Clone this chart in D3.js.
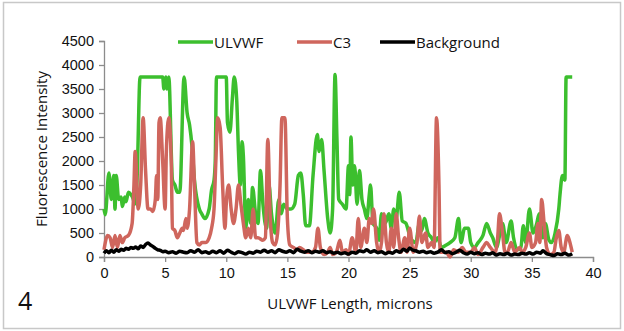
<!DOCTYPE html>
<html>
<head>
<meta charset="utf-8">
<script src="https://cdn.jsdelivr.net/npm/d3@7"></script>
<style>
  body { margin: 0; background: #fff; }
  svg { display: block; font-family: "Open Sans", sans-serif; }
</style>
</head>
<body>
<div class="chart"></div>
<script>
// values: [length (microns), intensity]
const ulvwf = [[0,1000],[0.1,880],[0.4,1750],[0.6,1200],[0.8,1700],[0.9,1000],[1.0,1700],[1.2,1200],[1.4,1250],[1.5,1050],[1.7,1250],[1.8,1150],[2.0,1350],[2.2,1300],[2.4,1200],[2.5,1100],[2.7,1600],[2.95,3750],[4.8,3750],[4.9,3500],[5.05,3750],[5.15,3500],[5.3,3750],[5.6,1600],[5.8,1500],[6.0,1350],[6.2,1350],[6.55,3750],[6.8,3000],[7.0,2750],[7.2,2300],[7.4,1600],[7.8,1000],[8.0,900],[8.25,800],[8.6,1000],[8.8,1400],[9.0,1600],[9.1,2000],[9.2,3750],[10.0,3750],[10.1,2800],[10.3,2600],[10.5,3300],[10.65,3750],[10.85,3300],[11.0,2200],[11.15,1500],[11.3,2400],[11.4,2100],[11.6,600],[11.8,1200],[12.0,700],[12.15,1450],[12.4,900],[12.6,700],[12.8,1800],[13.0,1100],[13.3,600],[13.5,1500],[13.7,900],[14.0,500],[14.3,1200],[14.5,900],[14.7,1100],[15.0,1000],[15.3,1000],[15.6,1100],[15.9,1700],[16.1,1750],[16.3,1300],[16.5,650],[16.8,650],[17.1,1700],[17.45,2550],[17.6,2200],[17.8,2450],[18.0,1800],[18.3,800],[18.5,500],[18.7,1000],[18.9,3800],[19.05,2500],[19.2,1200],[19.5,1100],[19.8,1000],[20.0,1900],[20.1,1300],[20.2,2500],[20.35,1500],[20.5,1900],[20.7,1100],[20.9,1800],[21.1,1200],[21.3,1000],[21.5,800],[21.7,1300],[21.8,1500],[22.0,700],[22.3,600],[22.5,350],[22.7,900],[23.0,700],[23.3,900],[23.5,600],[23.7,1000],[23.9,800],[24.15,1350],[24.4,750],[24.7,700],[25.0,450],[25.2,350],[25.5,300],[25.8,700],[26.0,550],[26.2,800],[26.5,500],[26.8,400],[27.0,300],[27.3,400],[27.6,200],[28.0,250],[28.3,300],[28.7,400],[29.0,800],[29.2,300],[29.5,600],[29.8,600],[30.0,300],[30.3,200],[30.6,300],[31.0,450],[31.3,700],[31.6,500],[31.8,400],[32.1,200],[32.4,500],[32.6,700],[32.9,300],[33.3,750],[33.5,400],[33.8,150],[34.1,200],[34.3,650],[34.5,300],[34.8,1000],[35.1,500],[35.4,700],[35.6,900],[35.9,400],[36.1,700],[36.4,350],[36.6,300],[36.9,500],[37.2,1000],[37.3,1300],[37.5,1700],[37.7,1600],[37.8,3750],[38.3,3750]];

const c3 = [[0,150],[0.3,450],[0.5,400],[0.7,200],[0.9,450],[1.1,200],[1.3,450],[1.5,300],[1.7,400],[2.0,450],[2.3,700],[2.45,1500],[2.55,2200],[2.8,1000],[3.0,1500],[3.2,2900],[3.4,1800],[3.6,1000],[3.8,1000],[4.0,950],[4.2,1200],[4.3,1700],[4.4,1200],[4.5,2800],[4.6,2900],[4.8,2000],[5.0,1000],[5.1,2200],[5.3,2900],[5.5,2000],[5.6,600],[5.8,550],[6.0,400],[6.2,500],[6.4,600],[6.5,550],[6.7,800],[6.8,600],[7.0,1000],[7.25,2400],[7.4,1500],[7.6,300],[7.8,250],[8.0,300],[8.3,300],[8.6,400],[8.8,600],[9.0,1000],[9.15,2000],[9.3,2900],[9.5,2700],[9.7,1500],[9.9,600],[10.0,1100],[10.2,1500],[10.4,1000],[10.6,700],[10.8,1000],[11.0,1500],[11.2,1100],[11.4,700],[11.6,400],[11.8,600],[12.0,400],[12.2,1000],[12.4,400],[12.6,400],[13.0,350],[13.2,400],[13.4,2450],[13.6,800],[13.8,300],[14.0,250],[14.2,500],[14.4,1500],[14.55,2900],[14.8,2900],[15.0,800],[15.2,250],[15.5,200],[15.8,150],[16.0,200],[16.3,150],[16.6,100],[17.0,100],[17.3,200],[17.5,600],[17.7,200],[18.0,50],[18.3,100],[18.5,200],[18.7,50],[19.0,100],[19.3,350],[19.5,100],[19.8,150],[20.0,50],[20.3,400],[20.6,100],[20.8,800],[21.0,200],[21.3,600],[21.5,300],[21.7,800],[21.9,700],[22.05,1000],[22.3,300],[22.5,100],[22.7,300],[22.9,900],[23.1,300],[23.3,100],[23.5,600],[23.7,200],[23.9,900],[24.1,400],[24.3,100],[24.6,400],[24.8,100],[25.0,600],[25.3,100],[25.6,300],[25.8,850],[26.0,300],[26.3,500],[26.5,200],[26.8,300],[27.0,200],[27.2,2900],[27.4,1500],[27.5,100],[27.8,100],[28.0,100],[28.3,0],[28.6,150],[29.0,100],[29.3,200],[29.6,100],[30.0,100],[30.3,200],[30.6,50],[31.0,200],[31.3,300],[31.6,200],[32.0,100],[32.2,400],[32.35,900],[32.6,500],[32.8,100],[33.0,100],[33.3,300],[33.6,100],[34.0,200],[34.2,100],[34.5,200],[34.8,500],[35.0,200],[35.3,300],[35.5,700],[35.65,300],[35.8,1200],[36.0,700],[36.2,200],[36.5,50],[36.8,100],[37.0,400],[37.2,550],[37.4,200],[37.6,100],[37.9,450],[38.0,400],[38.3,100]];

const background = [[0,80],[0.2,130],[0.4,90],[0.6,140],[0.8,100],[1.0,150],[1.2,120],[1.4,160],[1.6,140],[1.8,180],[2.0,160],[2.2,200],[2.4,180],[2.6,210],[2.8,170],[3.0,230],[3.2,200],[3.4,260],[3.6,290],[3.8,250],[4.0,220],[4.2,180],[4.4,150],[4.6,140],[4.8,110],[5.0,120],[5.3,90],[5.6,110],[5.9,80],[6.2,120],[6.5,100],[6.8,90],[7.1,130],[7.4,100],[7.7,150],[8.0,90],[8.3,110],[8.6,80],[8.9,120],[9.2,90],[9.5,130],[9.8,80],[10.1,140],[10.4,100],[10.7,70],[11.0,110],[11.3,90],[11.6,60],[11.9,100],[12.2,80],[12.5,120],[12.8,100],[13.1,140],[13.4,100],[13.7,130],[14.0,90],[14.3,150],[14.6,120],[14.9,100],[15.2,130],[15.5,90],[15.8,160],[16.1,120],[16.4,100],[16.7,130],[17.0,90],[17.3,120],[17.6,100],[17.9,130],[18.2,90],[18.5,110],[18.8,80],[19.1,100],[19.4,70],[19.7,90],[20.0,60],[20.3,100],[20.6,80],[20.9,130],[21.2,110],[21.5,150],[21.8,100],[22.1,130],[22.4,90],[22.7,110],[23.0,70],[23.3,100],[23.6,80],[23.9,130],[24.2,100],[24.5,160],[24.8,120],[25.0,190],[25.2,150],[25.5,130],[25.8,100],[26.1,120],[26.4,90],[26.7,110],[27.0,80],[27.3,100],[27.6,150],[27.9,90],[28.2,110],[28.5,70],[28.8,100],[29.1,140],[29.4,90],[29.7,60],[30.0,100],[30.3,70],[30.6,90],[30.9,50],[31.2,80],[31.5,60],[31.8,90],[32.1,40],[32.4,70],[32.7,50],[33.0,80],[33.3,40],[33.6,60],[33.9,50],[34.2,80],[34.5,60],[34.8,90],[35.1,60],[35.4,100],[35.7,80],[35.9,130],[36.2,70],[36.5,50],[36.8,30],[37.1,70],[37.4,50],[37.7,80],[38.0,40],[38.3,70]];

const seriesNames = ["ULVWF", "C3", "Background"];
const seriesColors = ["#3cbf2e", "#cf665d", "#000000"];
const xTicks = [0, 5, 10, 15, 20, 25, 30, 35, 40];
const yTicks = [0, 500, 1000, 1500, 2000, 2500, 3000, 3500, 4000, 4500];

const W = 624, H = 331;
const margin = { top: 41, right: 31, bottom: 74, left: 104 };
const width = W - margin.left - margin.right;
const height = H - margin.top - margin.bottom;

const svg = d3.select(".chart").append("svg")
    .attr("width", W)
    .attr("height", H);

// outer frame
svg.append("rect")
    .attr("x", 3.5).attr("y", 2.5)
    .attr("width", W - 7).attr("height", H - 5)
    .attr("fill", "none").attr("stroke", "#c8c8c8").attr("stroke-width", 1.5);

const g = svg.append("g")
    .attr("transform", "translate(" + margin.left + "," + margin.top + ")");

const x = d3.scaleLinear().domain([0, 40]).range([0, width]);
const y = d3.scaleLinear().domain([0, 4500]).range([height, 0]);

const xAxis = d3.axisBottom(x).tickValues(xTicks).tickSize(5).tickPadding(6);
const yAxis = d3.axisLeft(y).tickValues(yTicks).tickFormat(d3.format("d")).tickSize(5).tickPadding(5);

g.append("g").attr("class", "x axis")
    .attr("transform", "translate(0," + height + ")")
    .call(xAxis);
g.append("g").attr("class", "y axis").call(yAxis);

g.selectAll(".axis path, .axis line").attr("stroke", "#8c8c8c").attr("stroke-width", 1.3);
g.selectAll(".axis text").attr("fill", "#111").style("font-size", "14.5px");

const line = d3.line().curve(d3.curveMonotoneX).x(d => x(d[0])).y(d => y(d[1]));

[ulvwf, c3, background].forEach((data, i) => {
    g.append("path")
        .datum(data)
        .attr("fill", "none")
        .attr("stroke", seriesColors[i])
        .attr("stroke-width", 3.5)
        .attr("stroke-linejoin", "round")
        .attr("d", line);
});

// legend
const legendX = [178, 297, 380];
const legend = svg.append("g").attr("class", "legend");
seriesNames.forEach((name, i) => {
    legend.append("line")
        .attr("x1", legendX[i]).attr("x2", legendX[i] + 35)
        .attr("y1", 42).attr("y2", 42)
        .attr("stroke", seriesColors[i]).attr("stroke-width", 3.5);
    legend.append("text")
        .attr("x", legendX[i] + 36).attr("y", 47.5)
        .style("font-size", "15px")
        .attr("fill", "#111")
        .text(name);
});

// axis titles
svg.append("text")
    .attr("transform", "translate(47," + (margin.top + height / 2) + ") rotate(-90)")
    .attr("text-anchor", "middle")
    .style("font-size", "15px")
    .attr("fill", "#111")
    .text("Fluorescence Intensity");

svg.append("text")
    .attr("x", 350).attr("y", 309)
    .attr("text-anchor", "middle")
    .style("font-size", "15px")
    .attr("fill", "#111")
    .text("ULVWF Length, microns");

svg.append("text")
    .attr("x", 18).attr("y", 310)
    .style("font-size", "25px")
    .attr("fill", "#111")
    .text("4");
</script>
</body>
</html>
